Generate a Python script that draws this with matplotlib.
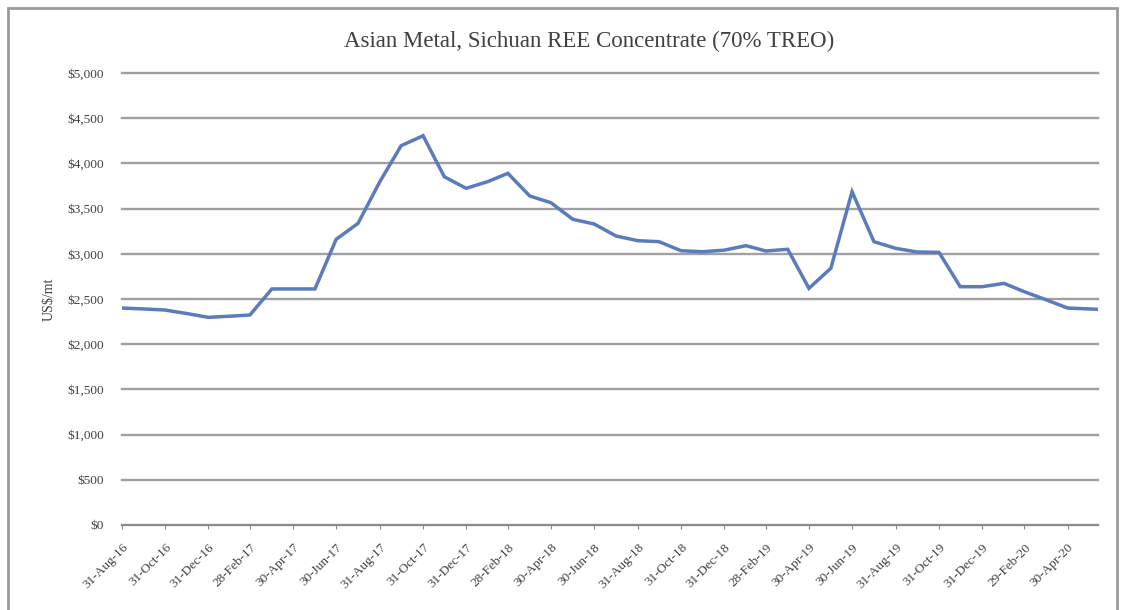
import numpy as np
import pandas as pd
import matplotlib
matplotlib.use('Agg')
import matplotlib.pyplot as plt
from matplotlib.patches import Rectangle

# monthly prices (US$/mt)
dates = pd.to_datetime([
    '2016-08-31', '2016-09-30', '2016-10-31', '2016-11-30', '2016-12-31',
    '2017-01-31', '2017-02-28', '2017-03-31', '2017-04-30', '2017-05-31',
    '2017-06-30', '2017-07-31', '2017-08-31', '2017-09-30', '2017-10-31',
    '2017-11-30', '2017-12-31', '2018-01-31', '2018-02-28', '2018-03-31',
    '2018-04-30', '2018-05-31', '2018-06-30', '2018-07-31', '2018-08-31',
    '2018-09-30', '2018-10-31', '2018-11-30', '2018-12-31', '2019-01-31',
    '2019-02-28', '2019-03-31', '2019-04-30', '2019-05-31', '2019-06-30',
    '2019-07-31', '2019-08-31', '2019-09-30', '2019-10-31', '2019-11-30',
    '2019-12-31', '2020-01-31', '2020-02-29', '2020-03-31', '2020-04-30',
    '2020-06-12'])
prices = [2400, 2390, 2378, 2340, 2297,
          2310, 2323, 2611, 2611, 2611,
          3160, 3337, 3800, 4196, 4306,
          3853, 3724, 3800, 3890, 3639,
          3565, 3381, 3330, 3197, 3145,
          3134, 3034, 3023, 3040, 3090,
          3031, 3050, 2618, 2840, 3687,
          3134, 3060, 3020, 3016, 2636,
          2636, 2673, 2580, 2490, 2400,
          2386]
tick_dates = dates[0:45:2]
y_ticks = np.arange(0, 5001, 500)

plt.rcParams['font.family'] = ['Liberation Serif', 'DejaVu Serif']

fig = plt.figure(figsize=(11.21, 6.10), dpi=100)
ax = fig.add_axes([122/1121, 1 - 525/610, (1098 - 122)/1121, (525 - 73)/610])

ax.plot(dates, prices, color='#5a7cbb', lw=2.5, solid_joinstyle='miter')

ax.set_ylim(0, 5000)
ax.set_xlim(dates[0], dates[-1])
ax.set_yticks(y_ticks)
ax.set_yticklabels(['${:,}'.format(v) for v in y_ticks], fontsize=9.5, color='#404040')
ax.set_xticks(tick_dates)
ax.set_xticklabels([d.strftime('%d-%b-%y') for d in tick_dates], rotation=45,
                   ha='right', rotation_mode='anchor', fontsize=9.5, color='#404040')
ax.tick_params(axis='y', length=0, pad=13)
ax.tick_params(axis='x', length=3, color='#8c8c8c', pad=9)

ax.grid(axis='y', color='#a0a0a0', lw=1.7)
for gl in ax.get_ygridlines():
    gl.set_clip_on(False)
ax.set_axisbelow(True)
for s in ['top', 'right', 'left']:
    ax.spines[s].set_visible(False)
ax.spines['bottom'].set_color('#8c8c8c')
ax.spines['bottom'].set_linewidth(1.4)

ax.set_ylabel('US$/mt', fontsize=10, color='#404040', labelpad=8)

fig.text(589/1121, 1 - 41/610, 'Asian Metal, Sichuan REE Concentrate (70% TREO)',
         ha='center', va='center', fontsize=16.5, color='#404040')

# chart area border
fig.patches.append(Rectangle((8/1121, -0.05), (1117 - 8)/1121, 1.05 - 8/610,
                             transform=fig.transFigure, fill=False,
                             edgecolor='#9a9a9a', lw=2))

fig.savefig('out.png', dpi=100)
